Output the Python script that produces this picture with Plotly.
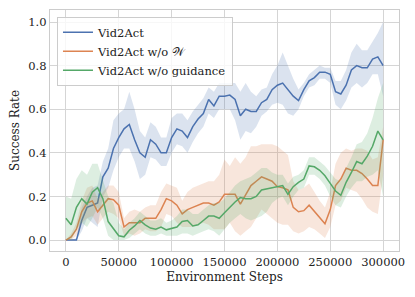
import plotly.graph_objects as go

steps = [i * 5000 for i in range(61)]

vid2act = [0.0, 0.0, 0.0, 0.09, 0.15, 0.16, 0.17, 0.29, 0.33, 0.42, 0.47, 0.51, 0.53, 0.46, 0.40, 0.38,
           0.46, 0.44, 0.40, 0.40, 0.47, 0.51, 0.50, 0.47, 0.52, 0.555, 0.58, 0.645, 0.615, 0.66, 0.66,
           0.665, 0.645, 0.57, 0.60, 0.59, 0.59, 0.63, 0.645, 0.69, 0.71, 0.72, 0.69, 0.66, 0.64, 0.69,
           0.73, 0.745, 0.77, 0.77, 0.76, 0.68, 0.67, 0.71, 0.78, 0.80, 0.79, 0.79, 0.83, 0.84, 0.80]
vid2act_lo = [0, 0, 0, 0.04, 0.10, 0.08, 0.06, 0.20, 0.24, 0.32, 0.38, 0.42, 0.42, 0.36, 0.28, 0.30,
              0.38, 0.37, 0.34, 0.34, 0.40, 0.44, 0.43, 0.40, 0.45, 0.49, 0.52, 0.58, 0.56, 0.60, 0.60,
              0.60, 0.55, 0.46, 0.50, 0.49, 0.52, 0.57, 0.59, 0.62, 0.63, 0.62, 0.58, 0.57, 0.60, 0.66,
              0.70, 0.71, 0.74, 0.74, 0.72, 0.62, 0.60, 0.64, 0.70, 0.72, 0.70, 0.72, 0.76, 0.76, 0.66]
vid2act_hi = [0, 0, 0.01, 0.15, 0.20, 0.24, 0.25, 0.36, 0.42, 0.55, 0.58, 0.60, 0.68, 0.60, 0.50, 0.47,
              0.54, 0.52, 0.47, 0.47, 0.56, 0.58, 0.58, 0.55, 0.59, 0.62, 0.65, 0.70, 0.68, 0.72, 0.72,
              0.72, 0.72, 0.68, 0.72, 0.68, 0.66, 0.69, 0.70, 0.76, 0.80, 0.86, 0.80, 0.74, 0.69, 0.72,
              0.76, 0.78, 0.80, 0.79, 0.79, 0.73, 0.73, 0.78, 0.86, 0.90, 0.87, 0.87, 0.91, 0.95, 1.00]

no_w = [0.0, 0.015, 0.05, 0.13, 0.17, 0.18, 0.13, 0.16, 0.19, 0.185, 0.16, 0.06, 0.08, 0.08, 0.08, 0.10,
        0.10, 0.10, 0.14, 0.19, 0.18, 0.16, 0.12, 0.14, 0.15, 0.16, 0.17, 0.17, 0.16, 0.175, 0.21,
        0.21, 0.21, 0.165, 0.21, 0.25, 0.27, 0.29, 0.28, 0.27, 0.245, 0.24, 0.23, 0.15, 0.13, 0.135,
        0.16, 0.13, 0.10, 0.075, 0.14, 0.25, 0.28, 0.33, 0.32, 0.32, 0.305, 0.28, 0.25, 0.25, 0.46]
no_w_lo = [0, 0.0, 0.02, 0.08, 0.10, 0.11, 0.07, 0.10, 0.13, 0.12, 0.10, 0.02, 0.03, 0.02, 0.03, 0.05,
           0.04, 0.04, 0.06, 0.12, 0.11, 0.08, 0.06, 0.06, 0.06, 0.07, 0.08, 0.07, 0.05, 0.05, 0.05,
           0.08, 0.04, 0.02, 0.04, 0.06, 0.10, 0.14, 0.12, 0.10, 0.08, 0.07, 0.07, 0.04, 0.03, 0.04,
           0.06, 0.05, 0.03, 0.01, 0.06, 0.16, 0.18, 0.24, 0.23, 0.22, 0.19, 0.15, 0.13, 0.12, 0.30]
no_w_hi = [0, 0.03, 0.08, 0.18, 0.24, 0.25, 0.19, 0.22, 0.25, 0.25, 0.22, 0.10, 0.13, 0.14, 0.13, 0.15,
           0.16, 0.16, 0.22, 0.26, 0.25, 0.24, 0.18, 0.22, 0.24, 0.25, 0.26, 0.27, 0.27, 0.30, 0.37,
           0.34, 0.38, 0.35, 0.38, 0.43, 0.43, 0.44, 0.44, 0.44, 0.43, 0.41, 0.39, 0.27, 0.23, 0.24,
           0.26, 0.22, 0.18, 0.15, 0.22, 0.35, 0.40, 0.42, 0.41, 0.42, 0.42, 0.41, 0.37, 0.38, 0.52]

no_guid = [0.10, 0.07, 0.15, 0.19, 0.165, 0.22, 0.24, 0.19, 0.085, 0.055, 0.02, 0.015, 0.045, 0.065,
           0.09, 0.07, 0.055, 0.05, 0.06, 0.047, 0.052, 0.06, 0.085, 0.09, 0.065, 0.07, 0.09, 0.11, 0.11,
           0.10, 0.125, 0.15, 0.175, 0.195, 0.19, 0.19, 0.20, 0.23, 0.235, 0.24, 0.245, 0.25, 0.21, 0.245,
           0.265, 0.28, 0.34, 0.336, 0.32, 0.295, 0.26, 0.225, 0.205, 0.265, 0.31, 0.36, 0.35, 0.385,
           0.43, 0.50, 0.46]
no_guid_lo = [0.0, 0.0, 0.05, 0.08, 0.06, 0.10, 0.15, 0.10, 0.02, 0.0, 0.0, 0.0, 0.01, 0.03, 0.05, 0.03,
              0.02, 0.02, 0.03, 0.02, 0.02, 0.02, 0.03, 0.03, 0.02, 0.03, 0.04, 0.05, 0.04, 0.02, 0.05,
              0.08, 0.10, 0.12, 0.10, 0.09, 0.10, 0.11, 0.13, 0.17, 0.19, 0.20, 0.16, 0.20, 0.23, 0.24,
              0.30, 0.30, 0.28, 0.25, 0.20, 0.16, 0.15, 0.20, 0.24, 0.27, 0.27, 0.29, 0.30, 0.32, 0.20]
no_guid_hi = [0.20, 0.19, 0.28, 0.32, 0.30, 0.35, 0.35, 0.28, 0.20, 0.17, 0.08, 0.05, 0.08, 0.10, 0.13,
              0.11, 0.09, 0.09, 0.10, 0.08, 0.09, 0.11, 0.14, 0.14, 0.12, 0.12, 0.14, 0.16, 0.17, 0.17,
              0.19, 0.22, 0.25, 0.27, 0.28, 0.29, 0.31, 0.33, 0.33, 0.31, 0.30, 0.30, 0.26, 0.29, 0.30,
              0.32, 0.38, 0.38, 0.36, 0.34, 0.31, 0.28, 0.27, 0.33, 0.38, 0.44, 0.45, 0.49, 0.56, 0.65, 0.72]

x_ticks = [0, 50000, 100000, 150000, 200000, 250000, 300000]
y_ticks = [0.0, 0.2, 0.4, 0.6, 0.8, 1.0]

series = [
    ("Vid2Act", vid2act, vid2act_lo, vid2act_hi, "#4C72B0", "rgba(76,114,176,0.2)"),
    ("Vid2Act w/o 𝒲", no_w, no_w_lo, no_w_hi, "#DD8452", "rgba(221,132,82,0.2)"),
    ("Vid2Act w/o guidance", no_guid, no_guid_lo, no_guid_hi, "#55A868", "rgba(85,168,104,0.2)"),
]

fig = go.Figure()
for name, mean, lo, hi, col, fcol in series:
    fig.add_trace(go.Scatter(x=steps, y=mean, mode="lines", name=name,
                             line=dict(color=col, width=1.5)))
    fig.add_trace(go.Scatter(x=steps + steps[::-1], y=hi + lo[::-1], fill="toself",
                             fillcolor=fcol, line=dict(width=0), mode="lines",
                             showlegend=False, hoverinfo="skip"))

font = "DejaVu Serif"
fig.update_layout(
    template="none",
    width=407, height=289,
    margin=dict(l=42, r=16, t=2, b=46, autoexpand=False),
    paper_bgcolor="white", plot_bgcolor="white",
    font=dict(family=font, size=12, color="#222222"),
    showlegend=True,
    legend=dict(x=0.02, y=0.972, xanchor="left", yanchor="top",
                bgcolor="rgba(255,255,255,0.8)", bordercolor="#cccccc", borderwidth=1,
                font=dict(family=font, size=11.5, color="#222222"),
                tracegroupgap=0, itemwidth=30),
    xaxis=dict(range=[-15000, 315000], tickvals=x_ticks, ticktext=[str(v) for v in x_ticks],
               showgrid=True, gridcolor="#d5d5d5", gridwidth=1, zeroline=False, automargin=False,
               showline=True, linecolor="#cccccc", linewidth=1.2, mirror=True,
               ticks="", tickfont=dict(family=font, size=11.5),
               title=dict(text="Environment Steps", standoff=4,
                          font=dict(family=font, size=12))),
    yaxis=dict(range=[-0.05, 1.055], tickvals=y_ticks, ticktext=[f"{v:.1f}" for v in y_ticks],
               showgrid=True, gridcolor="#d5d5d5", gridwidth=1, zeroline=False, automargin=False,
               showline=True, linecolor="#cccccc", linewidth=1.2, mirror=True,
               ticks="", tickfont=dict(family=font, size=11.5),
               title=dict(text="Success Rate", standoff=6,
                          font=dict(family=font, size=12))),
)

fig.write_html("out.html")
